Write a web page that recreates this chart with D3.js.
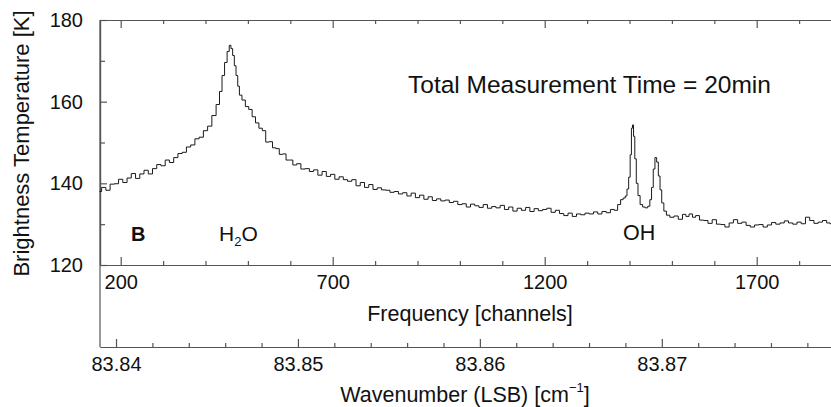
<!DOCTYPE html>
<html>
<head>
<meta charset="utf-8">
<script src="https://cdn.jsdelivr.net/npm/d3@7"></script>
<style>
  html, body { margin: 0; padding: 0; background: #fff; }
  svg { display: block; }
  text { font-family: "Liberation Sans", Arial, Helvetica, sans-serif; fill: #111; }
</style>
</head>
<body>
<svg id="chart" width="831" height="407"></svg>
<script>
// ---- data ----
const channels = [150,160,170,180,190,200,210,220,230,240,250,260,270,280,290,300,310,320,330,340,350,360,370,380,390,400,410,420,430,436,442,448,454,458,462,466,470,474,478,482,490,498,506,514,522,530,538,546,554,562,570,578,586,594,602,610,620,630,640,650,660,670,680,690,700,710,720,730,740,750,760,770,780,790,800,810,820,830,840,850,860,870,880,890,900,910,920,930,940,950,960,970,980,990,1000,1010,1020,1030,1040,1050,1060,1070,1080,1090,1100,1110,1120,1130,1140,1150,1160,1170,1180,1190,1200,1210,1220,1230,1240,1250,1260,1270,1280,1290,1300,1310,1320,1330,1340,1350,1360,1368,1376,1382,1388,1392,1396,1400,1403,1406,1408,1411,1414,1418,1422,1428,1434,1440,1446,1450,1454,1458,1462,1466,1470,1474,1478,1484,1490,1500,1510,1520,1530,1536,1545,1552,1560,1570,1580,1590,1600,1610,1620,1630,1640,1650,1660,1670,1680,1690,1700,1710,1720,1730,1740,1750,1760,1770,1780,1790,1800,1810,1820,1830,1840,1850,1860,1870,1876];
const brightness = [138.0,139.0,138.3,139.8,139.9,141.0,140.2,141.3,142.4,141.2,142.3,143.2,142.3,143.6,144.6,144.3,145.7,145.1,146.3,147.3,147.6,148.9,149.4,150.9,151.3,152.9,154.0,156.6,159.3,162.5,166.4,169.6,172.3,173.8,173.0,171.3,168.8,166.4,163.8,161.6,160.4,158.8,158.1,156.3,154.8,153.5,152.9,150.1,150.2,148.7,148.5,147.1,147.2,145.7,145.7,144.5,144.8,143.5,143.6,142.9,143.3,142.0,142.9,141.7,142.2,141.0,141.6,140.9,140.5,140.9,139.4,140.2,139.0,139.7,138.5,138.9,138.4,138.3,137.8,138.0,137.4,137.7,136.9,137.6,136.5,137.1,136.1,136.7,135.8,136.2,135.7,135.9,135.3,135.6,134.8,135.0,134.2,134.9,134.5,134.1,134.8,133.9,134.3,134.0,134.6,133.6,134.2,133.2,133.9,133.4,134.1,133.1,133.8,133.3,133.6,133.9,132.9,133.4,132.6,132.1,132.7,131.9,132.5,132.3,132.7,132.5,133.0,132.5,133.1,132.8,133.6,133.4,134.8,136.0,136.4,136.9,138.6,141.5,147.0,153.5,154.3,151.5,146.0,140.0,137.0,134.8,134.2,134.0,134.4,136.0,139.0,143.5,146.3,145.2,141.8,138.4,135.2,133.2,132.2,131.7,132.0,131.2,132.4,131.9,132.5,131.7,132.1,131.0,130.9,130.2,131.1,130.0,129.9,129.3,130.3,131.1,130.2,130.5,129.7,129.3,129.8,129.9,129.3,129.8,130.4,130.0,130.3,130.8,130.3,130.0,130.5,130.1,131.7,130.9,130.2,130.5,130.9,130.3,130.1];

const tempMajorTicks = [120, 140, 160, 180];
const tempMinorTicks = [130, 150, 170];
const channelMajorTicks = [200, 700, 1200, 1700];
const channelMinorTicks = [300, 400, 500, 600, 800, 900, 1000, 1100, 1300, 1400, 1500, 1600, 1800];
const waveMajorTicks = [83.84, 83.85, 83.86, 83.87];
const waveMinorTicks = [83.842, 83.844, 83.846, 83.848, 83.852, 83.854, 83.856, 83.858, 83.862, 83.864, 83.866, 83.868, 83.872, 83.874, 83.876, 83.878];

const yTitle = "Brightness Temperature [K]";
const chanTitle = "Frequency [channels]";
const annotation = "Total Measurement Time = 20min";

// ---- layout ----
const svg = d3.select("#chart");
const leftX = 100, rightX = 831, topY = 20, plotBottom = 265, waveY = 347;
const axisColor = "#555";

const x = d3.scaleLinear().domain([151.2, 1875.2]).range([leftX, rightX]);
const xw = d3.scaleLinear().domain([83.83912, 83.8793]).range([leftX, rightX]);
const y = d3.scaleLinear().domain([120, 180]).range([plotBottom, topY]);

function styleAxis(g) {
  g.select(".domain").attr("stroke", axisColor).attr("stroke-width", 1.2);
  g.selectAll(".tick line").attr("stroke", axisColor).attr("stroke-width", 1.2);
  g.selectAll(".tick text").attr("font-family", "Liberation Sans, Arial, sans-serif").attr("fill", "#111");
}

// left axis (temperature)
svg.append("g").attr("transform", `translate(${leftX},0)`)
  .call(d3.axisLeft(y).tickValues(tempMajorTicks).tickSizeInner(-7).tickSizeOuter(0).tickPadding(17).tickFormat(d3.format("d")))
  .call(styleAxis)
  .call(g => g.selectAll(".tick text").attr("font-size", 20));
svg.append("g").attr("transform", `translate(${leftX},0)`)
  .call(d3.axisLeft(y).tickValues(tempMinorTicks).tickSizeInner(-5).tickSizeOuter(0).tickFormat(""))
  .call(styleAxis);

// extend left axis line down to wavenumber axis
svg.append("line").attr("x1", leftX).attr("x2", leftX).attr("y1", topY).attr("y2", waveY)
  .attr("stroke", axisColor).attr("stroke-width", 1.2);

// channel axis (bottom of plot)
svg.append("g").attr("transform", `translate(0,${plotBottom})`)
  .call(d3.axisBottom(x).tickValues(channelMajorTicks).tickSizeInner(-8).tickSizeOuter(0).tickPadding(10).tickFormat(d3.format("d")))
  .call(styleAxis)
  .call(g => g.selectAll(".tick text").attr("font-size", 20));
svg.append("g").attr("transform", `translate(0,${plotBottom})`)
  .call(d3.axisBottom(x).tickValues(channelMinorTicks).tickSizeInner(-4).tickSizeOuter(0).tickFormat(""))
  .call(styleAxis);

// top axis (mirror of channels)
svg.append("g").attr("transform", `translate(0,${topY})`)
  .call(d3.axisTop(x).tickValues(channelMajorTicks).tickSizeInner(-8).tickSizeOuter(0).tickFormat(""))
  .call(styleAxis);
svg.append("g").attr("transform", `translate(0,${topY})`)
  .call(d3.axisTop(x).tickValues(channelMinorTicks).tickSizeInner(-4).tickSizeOuter(0).tickFormat(""))
  .call(styleAxis);

// wavenumber axis
svg.append("g").attr("transform", `translate(0,${waveY})`)
  .call(d3.axisBottom(xw).tickValues(waveMajorTicks).tickSizeInner(-8).tickSizeOuter(0).tickPadding(10).tickFormat(d3.format(".2f")))
  .call(styleAxis)
  .call(g => g.selectAll(".tick text").attr("font-size", 20));
svg.append("g").attr("transform", `translate(0,${waveY})`)
  .call(d3.axisBottom(xw).tickValues(waveMinorTicks).tickSizeInner(-4).tickSizeOuter(0).tickFormat(""))
  .call(styleAxis);

// spectrum
const data = channels.map((c, i) => [c, brightness[i]]);
svg.append("path")
  .datum(data)
  .attr("fill", "none")
  .attr("stroke", "#1a1a1a")
  .attr("stroke-width", 1)
  .attr("d", d3.line().x(d => x(d[0])).y(d => y(d[1])).curve(d3.curveStep));

// titles
svg.append("text")
  .attr("transform", `translate(29,${(topY + plotBottom) / 2 + 1}) rotate(-90)`)
  .attr("text-anchor", "middle").attr("font-size", 22).text(yTitle);

svg.append("text").attr("x", 470).attr("y", 321).attr("text-anchor", "middle")
  .attr("font-size", 21.5).text(chanTitle);

const wt = svg.append("text").attr("x", 465).attr("y", 402).attr("text-anchor", "middle").attr("font-size", 21.5);
wt.append("tspan").text("Wavenumber (LSB) [cm");
wt.append("tspan").attr("font-size", 13).attr("dy", -10).text("\u22121");
wt.append("tspan").attr("dy", 10).text("]");

// annotations
svg.append("text").attr("x", 408).attr("y", 93).attr("font-size", 24.5).text(annotation);

svg.append("text").attr("x", 131).attr("y", 241).attr("font-size", 20).attr("font-weight", "bold").text("B");

const h2o = svg.append("text").attr("x", 219).attr("y", 241).attr("font-size", 21);
h2o.append("tspan").text("H");
h2o.append("tspan").attr("font-size", 13).attr("dy", 5).text("2");
h2o.append("tspan").attr("dy", -5).text("O");

svg.append("text").attr("x", 623).attr("y", 240).attr("font-size", 21.5).text("OH");
</script>
</body>
</html>
